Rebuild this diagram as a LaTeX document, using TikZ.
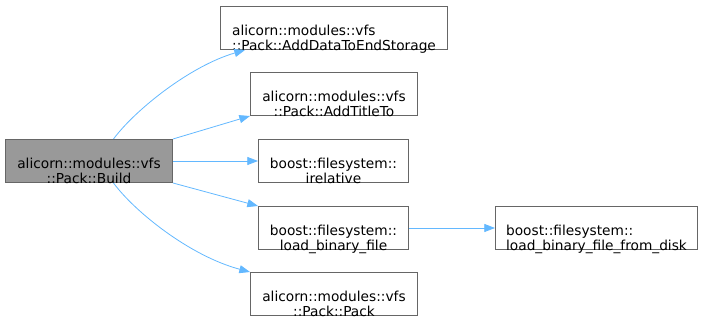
\documentclass[tikz,border=0pt]{standalone}
\usepackage{fontspec}
\setmainfont{DejaVu Sans}
\usetikzlibrary{arrows.meta,calc}
\definecolor{edgeblue}{HTML}{63B8FF}
\definecolor{boxline}{HTML}{666666}
\definecolor{boxfill}{HTML}{999999}
% two-line function name: first line left-justified, last line centred
\newcommand\fnname[2]{\begin{tabular}[t]{@{}l@{}}#1\\\multicolumn{1}{@{}c@{}}{#2}\end{tabular}}
\begin{document}
\begin{tikzpicture}[x=0.75pt,y=-0.75pt,
  fn/.style 2 args={draw=boxline, line width=0.75pt, fill=white, inner sep=0pt,
    anchor=north west, minimum width=#1*0.75pt, minimum height=#2*0.75pt},
  caller/.style={fill=boxfill},
  fnlabel/.style={inner sep=0pt, anchor=base, font=\fontsize{10.3pt}{10.5pt}\selectfont},
  call/.style={draw=edgeblue, line width=0.6pt, -{Triangle[length=8pt,width=6pt]}}]
\useasboundingbox (0,0) rectangle (704,320);

% function boxes
\node[fn={167}{43}, caller] (build) at (5,139) {};
\node[fn={227}{43}] (add)   at (220,6)   {};
\node[fn={167}{43}] (title) at (250,72)  {};
\node[fn={150}{43}] (irel)  at (258,139) {};
\node[fn={150}{43}] (lbf)   at (258,206) {};
\node[fn={167}{43}] (pack)  at (250,272) {};
\node[fn={202}{43}] (disk)  at (495,206) {};

% box captions
\node[fnlabel] (build-t) at ($(build.north)+(0,30)$) {\fnname{alicorn::modules::vfs}{::Pack::Build}};
\node[fnlabel] (add-t)   at ($(add.north)+(0,30)$)   {\fnname{alicorn::modules::vfs}{::Pack::AddDataToEndStorage}};
\node[fnlabel] (title-t) at ($(title.north)+(0,30)$) {\fnname{alicorn::modules::vfs}{::Pack::AddTitleTo}};
\node[fnlabel] (irel-t)  at ($(irel.north)+(0,30)$)  {\fnname{boost::filesystem::}{irelative}};
\node[fnlabel] (lbf-t)   at ($(lbf.north)+(0,30)$)   {\fnname{boost::filesystem::}{load\_binary\_file}};
\node[fnlabel] (pack-t)  at ($(pack.north)+(0,30)$)  {\fnname{alicorn::modules::vfs}{::Pack::Pack}};
\node[fnlabel] (disk-t)  at ($(disk.north)+(0,30)$)  {\fnname{boost::filesystem::}{load\_binary\_file\_from\_disk}};

% call edges
\draw[call] ($(build.north)+(24.5,0)$) .. controls (135,110) and (190,66) .. ($(add.south west)+(25,0)$);
\draw[call] (build.north east) -- (title.south west);
\draw[call] (build.east) -- (irel.west);
\draw[call] (build.south east) -- (lbf.north west);
\draw[call] ($(build.south)+(24.5,0)$) .. controls (135,212) and (190,256) .. (pack.north west);
\draw[call] (lbf.east) -- (disk.west);
\end{tikzpicture}
\end{document}
